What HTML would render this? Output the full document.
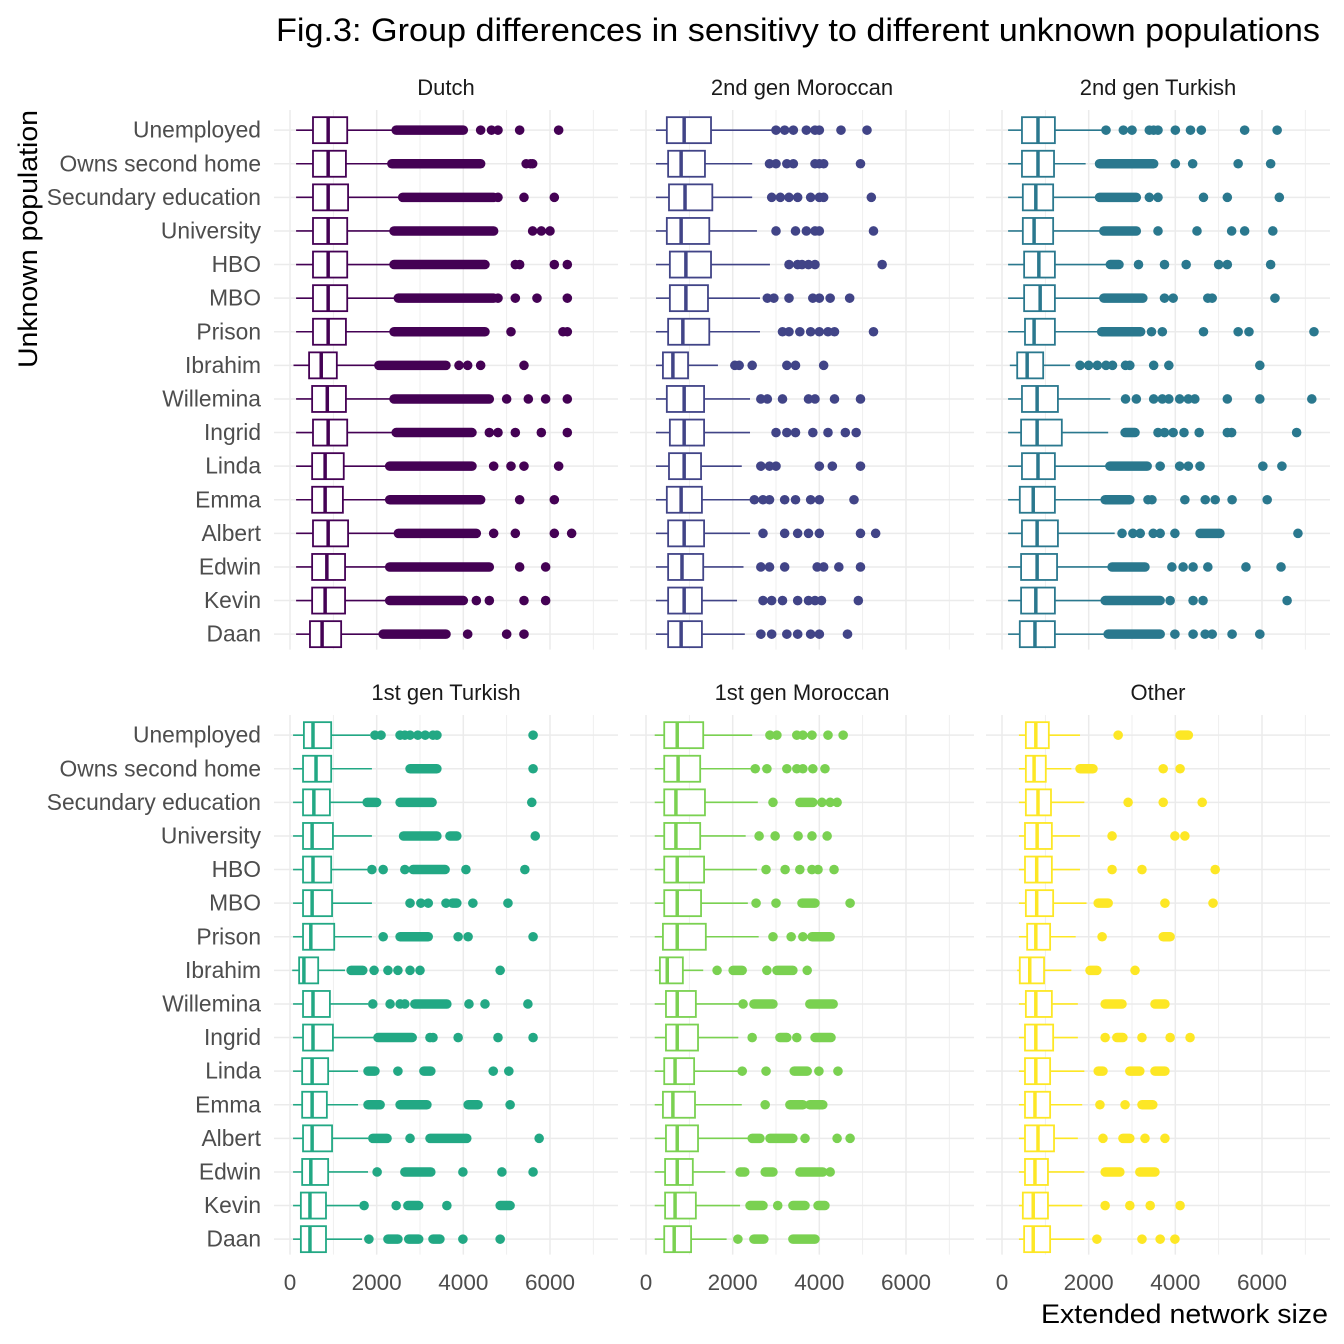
<!DOCTYPE html>
<html><head><meta charset="utf-8">
<style>
html,body{margin:0;padding:0;background:#fff;}
svg{display:block;font-family:"Liberation Sans",Arial,sans-serif;}
</style></head>
<body>
<svg id="chart" width="1344" height="1344" viewBox="0 0 1344 1344" xmlns="http://www.w3.org/2000/svg">
<rect width="1344" height="1344" fill="#fff"/>
<text x="276" y="41" font-size="32" textLength="1044" lengthAdjust="spacingAndGlyphs" fill="#000">Fig.3: Group differences in sensitivy to different unknown populations</text>
<text transform="translate(37,239) rotate(-90)" font-size="27" text-anchor="middle" textLength="258" lengthAdjust="spacingAndGlyphs" fill="#000">Unknown population</text>
<text x="1041" y="1323" font-size="27" textLength="287" lengthAdjust="spacingAndGlyphs" fill="#000">Extended network size</text>
<g id="panels"></g>
</svg>
<script>
const categories=["Unemployed","Owns second home","Secundary education","University","HBO","MBO","Prison","Ibrahim","Willemina","Ingrid","Linda","Emma","Albert","Edwin","Kevin","Daan"];
const groups=["Dutch","2nd gen Moroccan","2nd gen Turkish","1st gen Turkish","1st gen Moroccan","Other"];
const groupColors=["#440154","#414487","#2a788e","#22a884","#7ad151","#fde725"];
const xTicks=[0,2000,4000,6000];
const xTickLabels=["0","2000","4000","6000"];

// Dutch
const dutchLo=[140,140,140,140,140,140,140,80,140,140,140,140,140,140,140,140];
const dutchQ1=[530,530,530,530,530,530,530,440,510,530,510,510,530,510,510,460];
const dutchMed=[880,880,880,880,880,880,880,720,860,880,810,810,880,850,810,740];
const dutchQ3=[1320,1290,1340,1320,1320,1320,1290,1080,1290,1320,1240,1220,1340,1270,1270,1180];
const dutchHi=[2420,2300,2600,2400,2400,2500,2400,2000,2400,2450,2300,2300,2500,2300,2300,2150];
const dutchOut=[[[2450,4000],4400,4650,4800,5300,6200],[[2350,4400],5450,5550,5600],[[2600,4700],4800,5400,6100],[[2400,4700],5600,5800,6000],[[2400,4500],5200,5300,6100,6400],[[2500,4700],4800,5200,5700,6400],[[2400,4500],5100,6300,6400],[[2050,3600],3900,4100,4400,5400],[[2400,4600],5000,5500,5900,6400],[[2450,4200],4600,4800,5200,5800,6400],[[2300,4200],4700,5100,5400,6200],[[2300,4400],5300,6100],[[2500,4300],4700,5200,6100,6500],[[2300,4600],5300,5900],[[2300,4000],4300,4600,5400,5900],[[2150,3600],4100,5000,5400]];

// 2nd gen Moroccan
const mor2Lo=[230,230,230,230,230,230,230,230,230,230,230,230,230,230,230,230];
const mor2Q1=[480,510,530,480,550,550,510,390,480,550,530,480,510,510,510,510];
const mor2Med=[880,810,900,810,920,920,850,620,880,880,880,810,880,830,880,810];
const mor2Q3=[1500,1360,1530,1460,1500,1430,1460,970,1340,1340,1270,1290,1340,1320,1290,1290];
const mor2Hi=[2900,2450,2450,2560,2860,2630,2630,1660,2400,2400,2210,2400,2400,2250,2100,2280];
const mor2Out=[[3000,3200,3400,3700,3900,4000,4500,5100],[2850,3000,3250,3400,3900,4000,4100,4950],[2900,3100,3300,3500,3800,4000,4100,5200],[3000,3450,3700,3900,4000,5250],[3300,3500,3600,3750,3900,5450],[2800,2950,3300,3850,4000,4250,4700],[3150,3300,3550,3800,4000,4200,4350,5250],[2050,2150,2450,3250,3450,4100],[2650,2800,3150,3750,3900,4350,4950],[3000,3250,3450,3850,4200,4600,4850],[2650,2850,3000,4000,4300,4950],[2500,2700,2850,3200,3450,3800,4000,4800],[2700,3200,3500,3750,4000,4950,5300],[2650,2850,3200,3950,4100,4450,4950],[2700,2900,3150,3500,3750,3900,4050,4900],[2650,2900,3250,3500,3800,4000,4650]];

// 2nd gen Turkish
const tur2Lo=[140,140,140,140,140,140,140,180,140,140,140,140,140,140,140,140];
const tur2Q1=[460,460,480,480,510,510,530,350,460,440,460,410,460,440,440,410];
const tur2Med=[830,830,780,740,850,880,740,580,810,810,830,720,810,810,780,760];
const tur2Q3=[1220,1200,1180,1180,1220,1220,1220,950,1290,1380,1220,1220,1290,1270,1220,1220];
const tur2Hi=[2380,1930,2250,2350,2450,2350,2300,1570,2500,2450,2450,2350,2600,2500,2350,2400];
const tur2Out=[[2400,2800,3000,3400,3500,3600,4000,4350,4600,5600,6350],[[2250,3500],4000,4400,5450,6200],[[2250,3100],3400,3600,4650,5200,6400],[[2350,3100],3600,4500,5300,5600,6250],[[2500,2700],3150,3750,4250,5000,5200,6200],[[2350,3250],3750,3950,4750,4850,6300],[[2300,3200],3450,3700,4650,5450,5700,7200],[1800,2000,2200,2400,2550,2850,2950,3500,3850,5950],[2850,3100,3500,3700,3850,4100,4300,4450,5200,5950,7150],[[2840,3070],3600,3750,3950,4200,4550,5200,5300,6800],[[2490,3350],3650,4100,4300,4570,6020,6460],[[2380,2950],3370,3460,4220,4690,4920,5310,6120],[2770,3020,3190,3490,3650,3990,[4570,5030],6830],[[2540,3300],3920,4180,4410,4750,5630,6440],[[2380,3650],3880,4410,4640,6580],[[2450,3650],3990,4410,4690,4850,5310,5950]];

// 1st gen Turkish
const tur1Lo=[70,70,70,70,70,70,70,50,70,70,70,70,70,70,70,70];
const tur1Q1=[320,300,300,300,300,300,300,210,300,300,280,280,300,280,250,250];
const tur1Med=[530,600,550,510,530,510,480,320,530,530,510,510,510,480,460,460];
const tur1Q3=[950,950,920,990,950,970,1020,650,920,990,880,850,970,880,830,830];
const tur1Hi=[1850,1890,1750,1890,1800,1890,1890,1270,1800,1950,1570,1570,1800,1800,1650,1660];
const tur1Out=[[1960,2100,2540,2650,2770,2950,3120,3300,3390,5610],[[2770,3390],5610],[[1780,2000],[2540,3280],5580],[[2620,3390],[3690,3850],5660],[1890,2150,2650,[2840,3580],4060,5420],[2770,3020,3190,3600,[3750,3850],4220,5030],[2150,[2540,3190],3880,4110,5610],[[1410,1680],1940,2260,2490,2770,3000,4850],[1910,2310,2540,2650,[2880,3620],4130,4500,5490],[[2030,2820],3230,3300,3880,4800,5610],[[1800,1960],2490,[3090,3250],4690,5050],[[1800,2080],[2540,3160],[4110,4340],5080],[[1910,2240],2770,[3230,4080],5750],[2010,[2650,3250],3990,4890,5610],[1710,2450,[2720,2970],3620,[4850,5080]],[1820,[2260,2490],[2740,2970],[3300,3460],3990,4850]];

// 1st gen Moroccan
const mor1Lo=[200,200,200,200,200,200,200,200,200,200,200,200,200,200,200,200];
const mor1Q1=[420,420,420,420,420,420,390,320,460,460,420,390,460,440,440,420];
const mor1Med=[720,740,690,690,720,720,720,490,720,720,670,620,720,720,670,650];
const mor1Q3=[1320,1250,1360,1250,1340,1270,1380,850,1150,1200,1110,1130,1200,1080,1150,1040];
const mor1Hi=[2450,2450,2580,2300,2560,2350,2600,1320,2170,2130,2220,2210,2350,1830,2170,1860];
const mor1Out=[[2860,3020,3480,3620,3830,4200,4550],[2520,2790,3250,3480,3620,3850,4130],[2930,[3550,3850],4060,4250,4410],[2610,2980,3510,3830,4180],[2770,3210,3550,3830,3970,4340],[2540,3000,[3600,3900],4710],[2930,3350,3620,[3830,4250]],[1640,[2010,2220],2790,[3020,3390],3720],[2240,[2490,2930],[3780,4320]],[2450,[3090,3250],3480,[3900,4270]],[2220,2770,[3420,3720],3990,4430],[2750,[3320,3620],[3780,4080]],[[2450,2630],[2860,3390],3670,4410,4710],[[2170,2280],[2750,2930],[3550,4080],4250],[[2400,2700],3040,[3390,3670],[3970,4130]],[2120,[2490,2720],[3390,3900]]];

// Other
const othLo=[390,390,390,390,390,390,390,350,390,390,390,390,390,390,390,390];
const othQ1=[550,550,550,530,530,550,580,410,550,530,530,530,530,530,480,510];
const othMed=[780,740,830,810,800,800,780,640,780,780,780,760,830,760,720,720];
const othQ3=[1080,1010,1130,1150,1150,1180,1110,970,1150,1180,1110,1110,1200,1060,1060,1110];
const othHi=[1800,1600,1900,1800,1800,1950,1700,1600,1750,1750,1900,1850,1750,1900,1850,1900];
const othOut=[[2680,[4110,4300]],[[1800,2100],3720,4110],[2910,3720,4620],[2540,3990,4220],[2540,3230,4920],[[2220,2450],3760,4870],[2310,[3720,3880]],[[2030,2190],3070],[[2380,2770],[3530,3760]],[2380,[2650,2790],3230,3880,4340],[[2220,2330],[2950,3180],[3530,3760]],[2260,2840,[3230,3480]],[2330,[2790,2950],3300,3760],[[2380,2720],[3180,3530]],[2380,2950,3420,4110],[2190,3230,3650,3990]];

const panelData=[
 [dutchLo,dutchQ1,dutchMed,dutchQ3,dutchHi,dutchOut],
 [mor2Lo,mor2Q1,mor2Med,mor2Q3,mor2Hi,mor2Out],
 [tur2Lo,tur2Q1,tur2Med,tur2Q3,tur2Hi,tur2Out],
 [tur1Lo,tur1Q1,tur1Med,tur1Q3,tur1Hi,tur1Out],
 [mor1Lo,mor1Q1,mor1Med,mor1Q3,mor1Hi,mor1Out],
 [othLo,othQ1,othMed,othQ3,othHi,othOut]
];

const NS="http://www.w3.org/2000/svg";
const root=document.getElementById('panels');
const XMIN=-370,XMAX=7570,PW=344;
const panelLeft=[274,630,986];
const rowTop=[110,715];
const STEP=33.6;
function mk(tag,attrs,parent){const e=document.createElementNS(NS,tag);for(const k in attrs)e.setAttribute(k,attrs[k]);parent.appendChild(e);return e;}

for(let p=0;p<6;p++){
  const col=p%3,row=Math.floor(p/3);
  const L=panelLeft[col],T=rowTop[row],H=STEP*16;
  const xs=v=>L+(v-XMIN)/(XMAX-XMIN)*PW;
  const ys=i=>T+STEP*0.6+i*STEP;
  const g=mk('g',{},root);
  
  
  for(let v=1000;v<=7000;v+=2000){
    const ln=mk('line',{x1:xs(v),x2:xs(v),y1:T,y2:T+H+2,stroke:'#ebebeb','stroke-width':0.8},g);
    
    
  }
  xTicks.forEach(v=>{
    const ln=mk('line',{x1:xs(v),x2:xs(v),y1:T,y2:T+H+2,stroke:'#ebebeb','stroke-width':1.5},g);
    
    
  });
  categories.forEach((c,i)=>{
    const ln=mk('line',{x1:L,x2:L+PW,y1:ys(i),y2:ys(i),stroke:'#ebebeb','stroke-width':1.5},g);
    
    
  });
  const st=mk('text',{x:L+PW/2,y:T-15,'font-size':22,'text-anchor':'middle',fill:'#1a1a1a'},g);
  st.textContent=groups[p];
  
  
  if(col===0){
    categories.forEach((c,i)=>{
      const t=mk('text',{x:261,y:ys(i)+7.5,'font-size':22.8,'text-anchor':'end',fill:'#4d4d4d'},g);
      t.textContent=c;
      
      
    });
  }
  if(row===1){
    xTicks.forEach((v,k)=>{
      const t=mk('text',{x:xs(v),y:1290,'font-size':22.5,'text-anchor':'middle',fill:'#4d4d4d'},g);
      t.textContent=xTickLabels[k];
      
      
    });
  }
  const [lo,q1,med,q3,hi,out]=panelData[p];
  const color=groupColors[p];
  categories.forEach((c,i)=>{
    const y=ys(i);
    const bg=mk('g',{},g);
    
    
    const w1=mk('line',{x1:xs(lo[i]),x2:xs(q1[i]),y1:y,y2:y,stroke:color,'stroke-width':1.6},bg);
    
    
    const w2=mk('line',{x1:xs(q3[i]),x2:xs(hi[i]),y1:y,y2:y,stroke:color,'stroke-width':1.6},bg);
    
    
    const bx=mk('rect',{x:xs(q1[i]),y:y-13,width:xs(q3[i])-xs(q1[i]),height:26,fill:'#fff',stroke:color,'stroke-width':1.8},bg);
    
    
    const md=mk('line',{x1:xs(med[i]),x2:xs(med[i]),y1:y-13,y2:y+13,stroke:color,'stroke-width':3.5},bg);
    
    
    out[i].forEach(o=>{
      if(Array.isArray(o)){
        const run=mk('line',{x1:xs(o[0]),x2:xs(o[1]),y1:y,y2:y,stroke:color,'stroke-width':9.5,'stroke-linecap':'round'},bg);
        
        
      } else {
        const pt=mk('circle',{cx:xs(o),cy:y,r:4.8,fill:color},bg);
        
        
      }
    });
  });
}
</script>
</body></html>
